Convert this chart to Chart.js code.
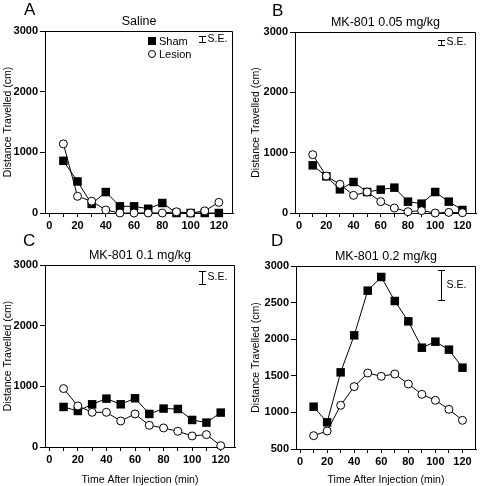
<!DOCTYPE html>
<html>
<head>
<meta charset="utf-8">
<script src="https://cdn.jsdelivr.net/npm/chart.js@4.4.1/dist/chart.umd.min.js"></script>
<style>
  body { margin: 0; background: #fff; }
  #wrap { position: relative; width: 482px; height: 486px; font-family: "Liberation Sans", Arial, sans-serif; }
  .panel { position: absolute; width: 241px; height: 243px; }
  .letter { position: absolute; font-size: 17px; line-height: 17px; color: #000; }
</style>
</head>
<body>
<div id="wrap">
  <div class="panel" style="left:0;top:0"><canvas id="chartA" width="241" height="243"></canvas></div>
  <div class="panel" style="left:241px;top:0"><canvas id="chartB" width="241" height="243"></canvas></div>
  <div class="panel" style="left:0;top:243px"><canvas id="chartC" width="241" height="243"></canvas></div>
  <div class="panel" style="left:241px;top:243px"><canvas id="chartD" width="241" height="243"></canvas></div>
  <div class="letter" style="left:24px;top:1px">A</div>
  <div class="letter" style="left:272px;top:2px">B</div>
  <div class="letter" style="left:23px;top:232px">C</div>
  <div class="letter" style="left:271px;top:232px">D</div>
</div>
<script>
// time points (min after injection)
const timeMin = [10, 20, 30, 40, 50, 60, 70, 80, 90, 100, 110, 120];
const xTicks = [0, 10, 20, 30, 40, 50, 60, 70, 80, 90, 100, 110, 120];

// distance travelled (cm)
const shamSaline   = [860, 520, 150, 345, 110, 110, 70, 165, 0, 0, 0, 0];
const lesionSaline = [1140, 275, 195, 50, 0, 0, 0, 0, 20, 0, 35, 175];
const sham005      = [790, 608, 392, 514, 348, 387, 420, 188, 155, 348, 188, 50];
const lesion005    = [967, 613, 475, 293, 348, 188, 83, 22, 39, 0, 10, 5];
const sham01       = [660, 594, 704, 797, 704, 803, 545, 633, 627, 446, 402, 567];
const lesion01     = [963, 677, 572, 572, 429, 545, 358, 314, 259, 182, 204, 22];
const sham02       = [1078, 864, 1547, 2053, 2663, 2850, 2522, 2244, 1884, 1966, 1857, 1611];
const lesion02     = [682, 746, 1097, 1352, 1538, 1493, 1525, 1388, 1247, 1165, 1042, 892];

// y ticks
const yTicksLow = [0, 1000, 2000, 3000];
const yTicksHigh = [500, 1000, 1500, 2000, 2500, 3000];

// S.E. bars (x position, low, high) per panel
const seTime = [108, 104, 107, 104];
const seLow  = [2820, 2785, 2690, 2535];
const seHigh = [2915, 2865, 2900, 2940];

const FONT = '"Liberation Sans", Arial, sans-serif';

// draws the frame, title, S.E. bar and (panel A) legend
const panelDecor = {
  id: 'panelDecor',
  afterDraw(chart, args, opts) {
    const ctx = chart.ctx;
    const a = chart.chartArea;
    const xs = chart.scales.x, ys = chart.scales.y;
    ctx.save();
    ctx.strokeStyle = '#000';
    ctx.lineWidth = 1;
    // top and right frame
    ctx.beginPath();
    ctx.moveTo(a.left, a.top + 0.5);
    ctx.lineTo(a.right - 0.5, a.top + 0.5);
    ctx.lineTo(a.right - 0.5, a.bottom);
    ctx.stroke();

    // title
    ctx.fillStyle = '#000';
    ctx.font = '12.5px ' + FONT;
    ctx.textAlign = 'center';
    ctx.textBaseline = 'middle';
    ctx.fillText(opts.title, (a.left + a.right) / 2, a.top - 9);

    // S.E. bar
    const i = opts.panel;
    const bx = Math.round(xs.getPixelForValue(seTime[i])) + 0.5;
    const y1 = ys.getPixelForValue(seHigh[i]);
    const y2 = ys.getPixelForValue(seLow[i]);
    ctx.beginPath();
    ctx.moveTo(bx, y1); ctx.lineTo(bx, y2);
    ctx.moveTo(bx - 3.5, Math.round(y1) + 0.5); ctx.lineTo(bx + 3.5, Math.round(y1) + 0.5);
    ctx.moveTo(bx - 3.5, Math.round(y2) + 0.5); ctx.lineTo(bx + 3.5, Math.round(y2) + 0.5);
    ctx.stroke();
    ctx.font = '10.5px ' + FONT;
    ctx.textAlign = 'left';
    ctx.fillText('S.E.', bx + 5, (y1 + y2) / 2);

    // legend (panel A only)
    if (opts.legend) {
      const lx = a.left + 107, ly = a.top + 10;
      ctx.fillRect(lx - 4, ly - 4, 8, 8);
      ctx.beginPath();
      ctx.arc(lx, ly + 13, 3.5, 0, Math.PI * 2);
      ctx.fillStyle = '#fff';
      ctx.fill();
      ctx.stroke();
      ctx.fillStyle = '#000';
      ctx.font = '11px ' + FONT;
      ctx.fillText('Sham', lx + 7, ly + 1);
      ctx.fillText('Lesion', lx + 7, ly + 14);
    }
    ctx.restore();
  }
};

function pts(vals) {
  return timeMin.map((t, k) => ({ x: t, y: vals[k] }));
}

function makePanel(id, p) {
  new Chart(document.getElementById(id), {
    type: 'line',
    data: {
      datasets: [
        {
          label: 'Lesion',
          data: pts(p.lesion),
          borderColor: '#000',
          borderWidth: 1,
          backgroundColor: '#fff',
          pointStyle: 'circle',
          pointRadius: 4,
          pointBorderWidth: 1,
          pointBorderColor: '#000',
          pointBackgroundColor: '#fff',
          tension: 0,
          order: 1
        },
        {
          label: 'Sham',
          data: pts(p.sham),
          borderColor: '#000',
          borderWidth: 1,
          backgroundColor: '#000',
          pointStyle: 'rect',
          pointRadius: 6,
          pointBorderWidth: 0,
          pointBackgroundColor: '#000',
          tension: 0,
          order: 2
        }
      ]
    },
    options: {
      responsive: false,
      animation: false,
      events: [],
      clip: false,
      layout: { padding: { top: p.area.top, right: 241 - p.area.right, left: 0, bottom: 0 } },
      plugins: {
        legend: { display: false },
        tooltip: { enabled: false },
        panelDecor: { title: p.title, panel: p.index, legend: p.legend }
      },
      scales: {
        x: {
          type: 'linear',
          min: -3,
          max: 130,
          afterBuildTicks: s => { s.ticks = xTicks.map(v => ({ value: v })); },
          afterFit: s => { s.height = 243 - p.area.bottom; },
          grid: { drawOnChartArea: false, drawTicks: true, tickLength: 4, color: '#000', lineWidth: 1 },
          border: { display: true, color: '#000', width: 1 },
          ticks: {
            autoSkip: false,
            maxRotation: 0,
            padding: 2,
            color: '#000',
            font: { family: FONT, size: 11, weight: 'bold' },
            callback: v => (v % 20 === 0 ? String(v) : '')
          },
          title: {
            display: p.xTitle,
            text: 'Time After Injection (min)',
            color: '#000',
            font: { family: FONT, size: 10.5 },
            padding: { top: 5, bottom: 0 }
          }
        },
        y: {
          min: p.yTicks[0],
          max: 3000,
          afterBuildTicks: s => { s.ticks = p.yTicks.map(v => ({ value: v })); },
          afterFit: s => { s.width = p.area.left; },
          grid: { drawOnChartArea: false, drawTicks: true, tickLength: 5, color: '#000', lineWidth: 1 },
          border: { display: true, color: '#000', width: 1 },
          ticks: {
            padding: 2,
            color: '#000',
            font: { family: FONT, size: 11, weight: 'bold' },
            callback: v => String(v)
          },
          title: {
            display: true,
            text: 'Distance Travelled (cm)',
            color: '#000',
            font: { family: FONT, size: 10.5 },
            padding: { top: p.yTitlePad, bottom: 0 }
          }
        }
      }
    },
    plugins: [panelDecor]
  });
}

makePanel('chartA', {
  index: 0, title: 'Saline', sham: shamSaline, lesion: lesionSaline,
  yTicks: yTicksLow, legend: true, xTitle: false, yTitlePad: 2,
  area: { left: 45, top: 31, right: 233, bottom: 213 }
});
makePanel('chartB', {
  index: 1, title: 'MK-801 0.05 mg/kg', sham: sham005, lesion: lesion005,
  yTicks: yTicksLow, legend: false, xTitle: false, yTitlePad: 9,
  area: { left: 54, top: 32, right: 238, bottom: 213 }
});
makePanel('chartC', {
  index: 2, title: 'MK-801 0.1 mg/kg', sham: sham01, lesion: lesion01,
  yTicks: yTicksLow, legend: false, xTitle: true, yTitlePad: 2,
  area: { left: 45, top: 22, right: 236, bottom: 204 }
});
makePanel('chartD', {
  index: 3, title: 'MK-801 0.2 mg/kg', sham: sham02, lesion: lesion02,
  yTicks: yTicksHigh, legend: false, xTitle: true, yTitlePad: 9,
  area: { left: 55, top: 23, right: 238, bottom: 206 }
});
</script>
</body>
</html>
